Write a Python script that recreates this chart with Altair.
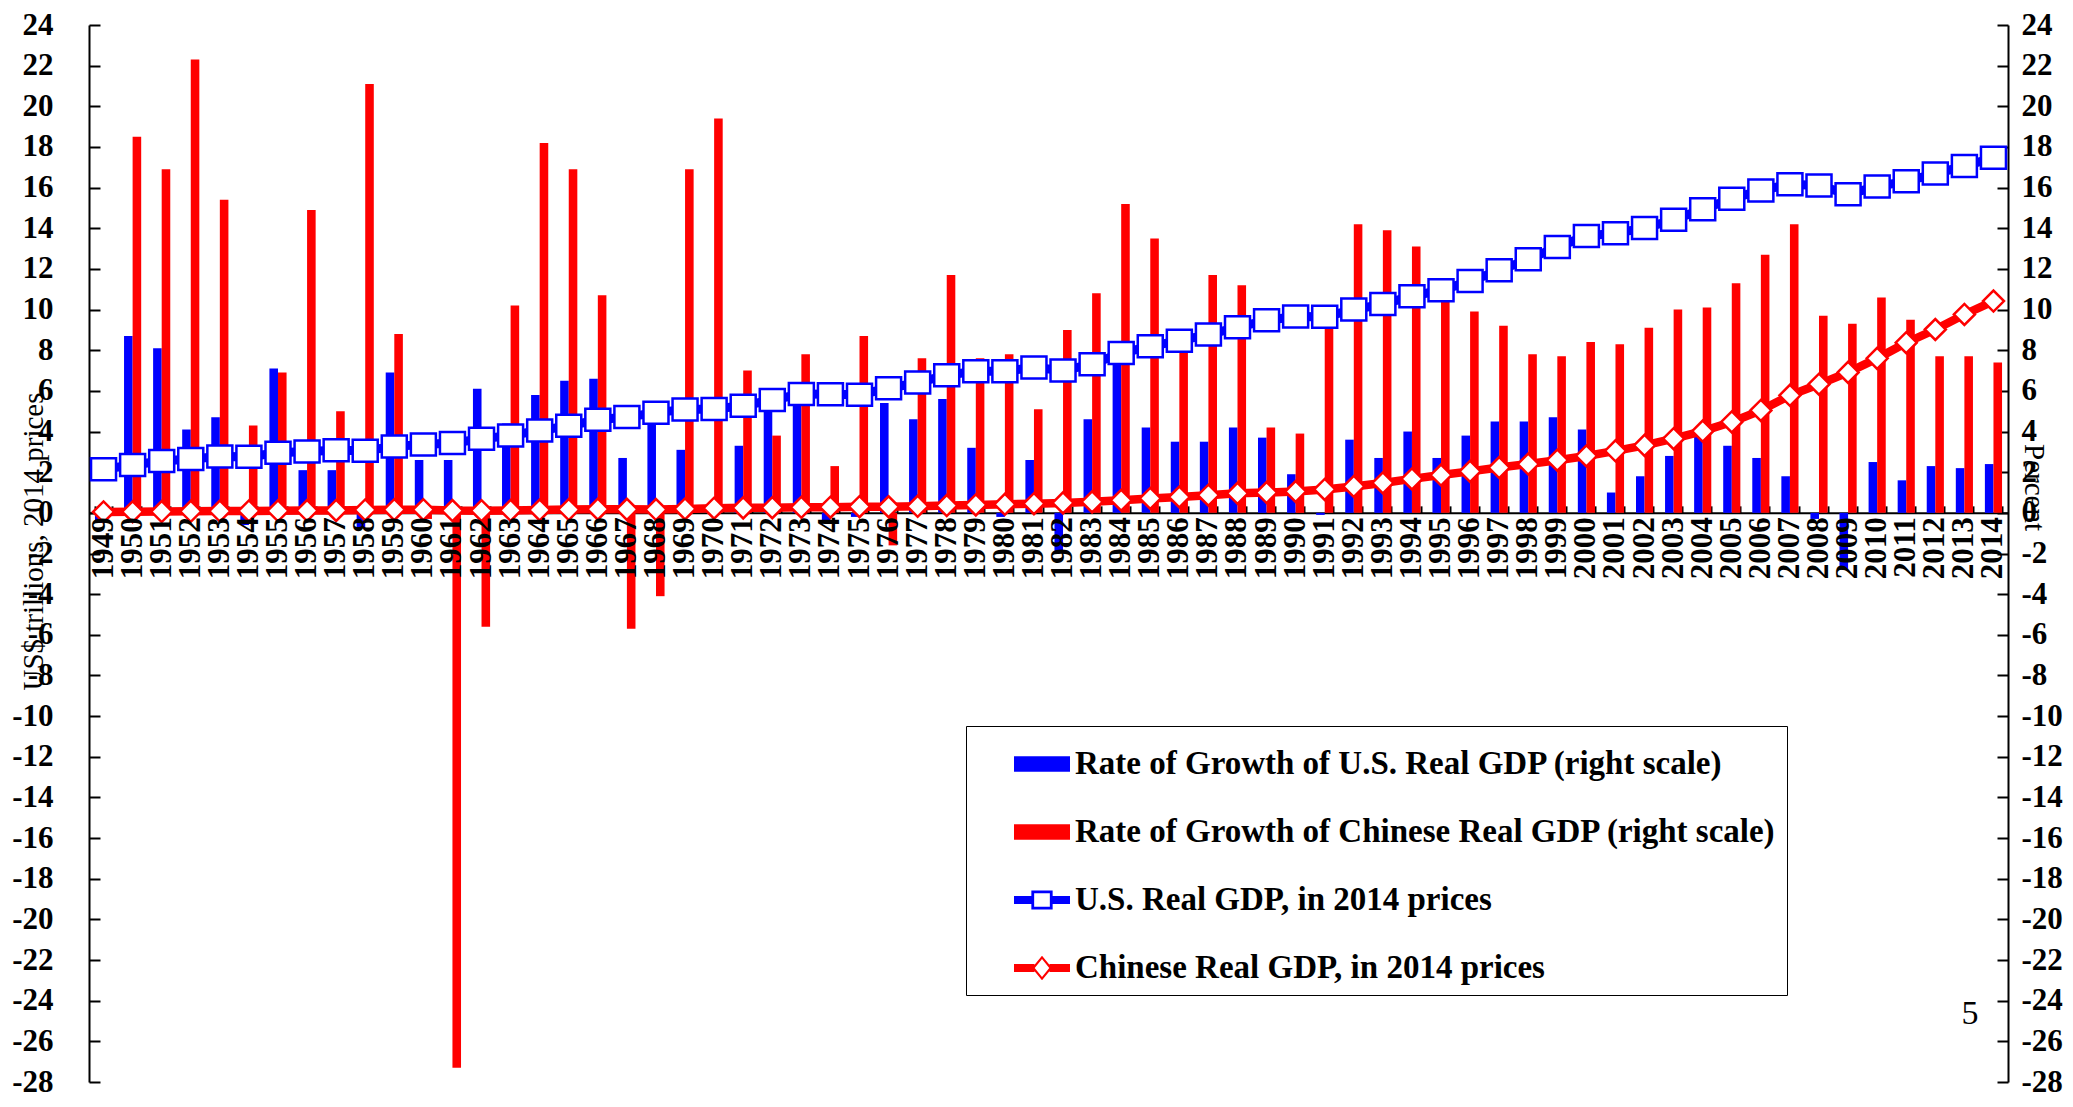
import altair as alt
import pandas as pd

# ---------------- data ----------------
years = [str(y) for y in range(1949, 2015)]

us_growth = [-0.5, 8.7, 8.1, 4.1, 4.7, -0.6, 7.1, 2.1, 2.1, -0.7,
             6.9, 2.6, 2.6, 6.1, 4.4, 5.8, 6.5, 6.6, 2.7, 4.9,
             3.1, 0.2, 3.3, 5.3, 5.6, -0.5, -0.2, 5.4, 4.6, 5.6,
             3.2, -0.2, 2.6, -1.9, 4.6, 7.3, 4.2, 3.5, 3.5, 4.2,
             3.7, 1.9, -0.1, 3.6, 2.7, 4.0, 2.7, 3.8, 4.5, 4.5,
             4.7, 4.1, 1.0, 1.8, 2.8, 3.8, 3.3, 2.7, 1.8, -0.3,
             -2.8, 2.5, 1.6, 2.3, 2.2, 2.4]

cn_growth = [0.0, 18.5, 16.9, 22.3, 15.4, 4.3, 6.9, 14.9, 5.0, 21.1,
             8.8, -0.3, -27.3, -5.6, 10.2, 18.2, 16.9, 10.7, -5.7, -4.1,
             16.9, 19.4, 7.0, 3.8, 7.8, 2.3, 8.7, -1.6, 7.6, 11.7,
             7.6, 7.8, 5.1, 9.0, 10.8, 15.2, 13.5, 8.9, 11.7, 11.2,
             4.2, 3.9, 9.3, 14.2, 13.9, 13.1, 11.0, 9.9, 9.2, 7.8,
             7.7, 8.4, 8.3, 9.1, 10.0, 10.1, 11.3, 12.7, 14.2, 9.7,
             9.3, 10.6, 9.5, 7.7, 7.7, 7.4]

us_gdp = [2.15, 2.35, 2.55, 2.65, 2.77, 2.76, 2.96, 3.02, 3.08, 3.06,
          3.27, 3.36, 3.44, 3.64, 3.81, 4.05, 4.28, 4.58, 4.71, 4.93,
          5.09, 5.11, 5.27, 5.55, 5.85, 5.83, 5.81, 6.13, 6.41, 6.77,
          6.97, 6.97, 7.15, 7.00, 7.31, 7.86, 8.19, 8.47, 8.77, 9.13,
          9.47, 9.66, 9.65, 10.0, 10.27, 10.66, 10.95, 11.4, 11.93, 12.47,
          13.08, 13.62, 13.76, 14.01, 14.42, 14.94, 15.45, 15.86, 16.16, 16.11,
          15.67, 16.06, 16.31, 16.69, 17.06, 17.47]

cn_gdp = [0.045, 0.054, 0.063, 0.077, 0.089, 0.092, 0.099, 0.113, 0.119, 0.144,
          0.157, 0.156, 0.114, 0.107, 0.118, 0.140, 0.164, 0.181, 0.171, 0.164,
          0.192, 0.229, 0.245, 0.254, 0.274, 0.280, 0.305, 0.300, 0.322, 0.360,
          0.39, 0.42, 0.45, 0.49, 0.54, 0.62, 0.71, 0.78, 0.87, 0.96,
          1.00, 1.05, 1.15, 1.30, 1.47, 1.67, 1.86, 2.04, 2.23, 2.40,
          2.59, 2.80, 3.05, 3.32, 3.65, 4.02, 4.47, 5.04, 5.78, 6.33,
          6.91, 7.60, 8.37, 9.02, 9.76, 10.42]

y_ticks = list(range(-28, 26, 2))

US_BAR = "Rate of Growth of U.S. Real GDP (right scale)"
CN_BAR = "Rate of Growth of Chinese Real GDP (right scale)"
US_LINE = "U.S. Real GDP, in 2014 prices"
CN_LINE = "Chinese Real GDP, in 2014 prices"
series_names = [US_BAR, CN_BAR, US_LINE, CN_LINE]

# ---------------- styles ----------------
BLUE = "#0000FF"
RED = "#FF0000"
FONT = "Liberation Serif"
W, H = 1919, 1057

BAR_SYM = "M-1,-0.28H1V0.28H-1Z"
US_SYM = ("M-1,-0.14H-0.38V0.14H-1Z M0.38,-0.14H1V0.14H0.38Z "
          "M-0.38,-0.34H0.38V0.34H-0.38Z M-0.28,-0.24V0.24H0.28V-0.24Z")
CN_SYM = ("M-1,-0.14H-0.27V0.14H-1Z M0.27,-0.14H1V0.14H0.27Z "
          "M0,-0.44L0.36,0L0,0.44L-0.36,0Z M0,-0.32L-0.26,0L0,0.32L0.26,0Z")
SQUARE_MARK = "M-1,-0.88H1V0.88H-1Z"

MINUS = "datum.value < 0 ? '-' + abs(datum.value) : '' + datum.value"

us_bar_df = pd.DataFrame({"year": years, "series": US_BAR, "value": us_growth})
cn_bar_df = pd.DataFrame({"year": years, "series": CN_BAR, "value": cn_growth})
us_df = pd.DataFrame({"year": years, "value": us_gdp, "series": US_LINE})
cn_df = pd.DataFrame({"year": years, "value": cn_gdp, "series": CN_LINE})

x_scale = alt.Scale(domain=years, paddingInner=0.41, paddingOuter=0.205)
y_scale = alt.Scale(domain=[-28, 24], nice=False, zero=False)
off_scale = alt.Scale(domain=[US_BAR, CN_BAR])
color_scale = alt.Scale(domain=series_names, range=[BLUE, RED, BLUE, RED])
shape_scale = alt.Scale(domain=series_names, range=[BAR_SYM, BAR_SYM, US_SYM, CN_SYM])

label_kw = dict(labelFont=FONT, labelFontSize=31, labelFontWeight="bold", labelColor="black")

x_bottom = alt.Axis(orient="bottom", offset=-H * 28 / 52, labelAngle=270, labelAlign="right",
                    labelBaseline="middle", labelPadding=4, ticks=False, tickSize=0,
                    domain=False, title=None, zindex=1, labelOverlap=False, grid=False, **label_kw)
x_top = alt.Axis(orient="top", offset=-H * 24 / 52, labels=False, ticks=True, tickBand="extent",
                 tickSize=7, tickWidth=2, tickColor="black", domain=True, domainColor="black",
                 domainWidth=2, title=None, grid=False)
y_left = alt.Axis(orient="left", values=y_ticks, labelExpr=MINUS, labelPadding=36, ticks=False,
                  tickSize=0, domain=True, domainColor="black", domainWidth=2, grid=False,
                  title="US$ trillions, 2014 prices", titleFont=FONT, titleFontSize=29,
                  titleFontWeight="normal", titleColor="black", titleAngle=270, titleX=-56,
                  titleY=516, titleAlign="center", titleBaseline="middle", **label_kw)
y_right = alt.Axis(orient="right", values=y_ticks, labelExpr=MINUS, labelPadding=13, ticks=False,
                   tickSize=0, domain=True, domainColor="black", domainWidth=2, grid=False,
                   title="Percent", titleFont=FONT, titleFontSize=29, titleFontWeight="normal",
                   titleColor="black", titleAngle=90, titleX=25, titleY=462, titleAlign="center",
                   titleBaseline="middle", **label_kw)
y_left_ticks = alt.Axis(orient="right", offset=-W, values=y_ticks, labels=False, ticks=True,
                        tickSize=11, tickWidth=2, tickColor="black", domain=False, grid=False, title=None)
y_right_ticks = alt.Axis(orient="left", offset=-W, values=y_ticks, labels=False, ticks=True,
                         tickSize=11, tickWidth=2, tickColor="black", domain=False, grid=False, title=None)

legend = alt.Legend(title=None, orient="none", legendX=877, legendY=701, direction="vertical",
                    labelFont=FONT, labelFontSize=33, labelFontWeight="bold", labelColor="black",
                    labelLimit=1200, labelOffset=5, symbolSize=3136, symbolStrokeWidth=0,
                    symbolOffset=38, symbolOpacity=1, rowPadding=23, padding=10,
                    strokeColor="black", fillColor="white", cornerRadius=0)

us_bars = alt.Chart(us_bar_df).mark_bar(color=BLUE).encode(
    x=alt.X("year:O", scale=x_scale, axis=x_bottom),
    xOffset=alt.XOffset("series:N", scale=off_scale),
    y=alt.Y("value:Q", scale=y_scale, axis=y_left),
)

cn_bars = alt.Chart(cn_bar_df).mark_bar(color=RED).encode(
    x=alt.X("year:O", scale=x_scale, axis=None),
    xOffset=alt.XOffset("series:N", scale=off_scale),
    y=alt.Y("value:Q", scale=y_scale, axis=None),
)

us_line = alt.Chart(us_df).mark_line(color=BLUE, strokeWidth=9).encode(
    x=alt.X("year:O", scale=x_scale, axis=x_top),
    y=alt.Y("value:Q", scale=y_scale, axis=y_right),
)

cn_line = alt.Chart(cn_df).mark_line(color=RED, strokeWidth=8.5).encode(
    x=alt.X("year:O", scale=x_scale, axis=None),
    y=alt.Y("value:Q", scale=y_scale, axis=y_left_ticks),
)

us_pts = alt.Chart(us_df).mark_point(shape=SQUARE_MARK, size=625, filled=True, fill="white",
                                     stroke=BLUE, strokeWidth=2.5, opacity=1).encode(
    x=alt.X("year:O", scale=x_scale, axis=None),
    y=alt.Y("value:Q", scale=y_scale, axis=y_right_ticks),
)

cn_pts = alt.Chart(cn_df).mark_point(shape="diamond", size=441, filled=True, fill="white",
                                     stroke=RED, strokeWidth=2.5, opacity=1).encode(
    x=alt.X("year:O", scale=x_scale, axis=None),
    y=alt.Y("value:Q", scale=y_scale, axis=None),
)

legend_layer = alt.Chart(us_df).transform_filter("false").mark_point(filled=True, opacity=1).encode(
    x=alt.X("year:O", scale=x_scale, axis=None),
    y=alt.Y("value:Q", scale=y_scale, axis=None),
    color=alt.Color("series:N", scale=color_scale, legend=legend),
    shape=alt.Shape("series:N", scale=shape_scale, legend=legend),
)

page_no = alt.Chart(pd.DataFrame({"t": ["5"]})).mark_text(
    font=FONT, fontSize=34, color="black", align="center", baseline="middle"
).encode(text="t:N", x=alt.value(1881), y=alt.value(989))

chart = (
    alt.layer(us_bars, cn_bars, us_line, cn_line, us_pts, cn_pts, legend_layer, page_no)
    .resolve_axis(x="independent", y="independent")
    .properties(width=W, height=H, autosize=alt.AutoSizeParams(type="none"),
                padding={"left": 81, "top": 17, "right": 56, "bottom": 17},
                background="white")
    .configure(font=FONT)
    .configure_view(strokeWidth=0)
)

chart.save("out.html", embed_options={"renderer": "svg", "actions": False})
